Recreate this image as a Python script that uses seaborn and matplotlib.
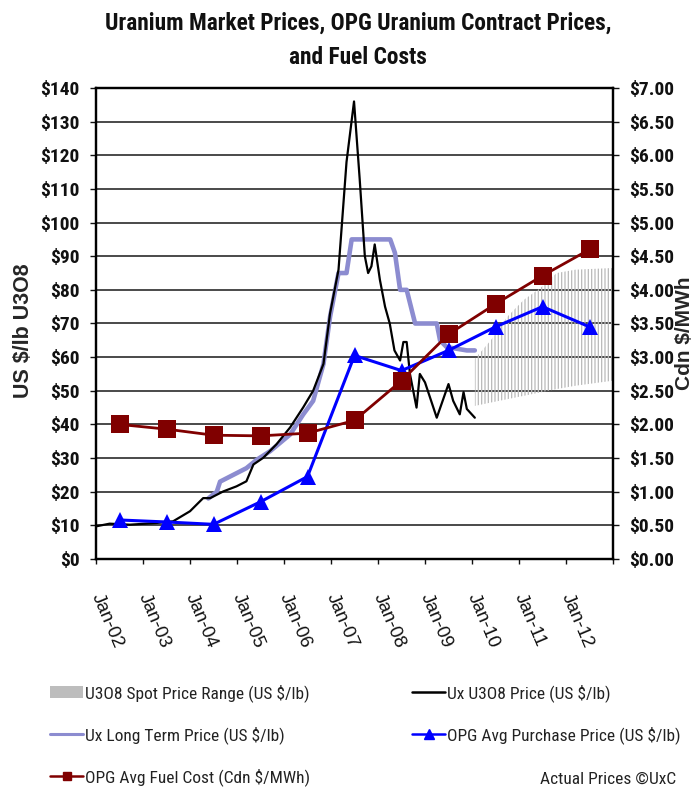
import matplotlib
matplotlib.use("Agg")
import matplotlib.pyplot as plt
import seaborn as sns
import pandas as pd
from matplotlib.lines import Line2D
from matplotlib.patches import Patch
from matplotlib import font_manager as fm

sns.set_style("white")
_names = {f.name for f in fm.fontManager.ttflist}
_narrow = [n for n in ['Liberation Sans Narrow', 'Roboto Condensed', 'Open Sans Condensed',
                       'Noto Sans Condensed', 'DejaVu Sans Condensed'] if n in _names]
NARROW = _narrow + ['Liberation Sans', 'DejaVu Sans']
plt.rcParams['font.family'] = NARROW
plt.rcParams['hatch.color'] = '#b9b9b9'
plt.rcParams['hatch.linewidth'] = 0.9

# ---------------- data ----------------
# annual (mid-year) points
annual_x = [2002.5, 2003.5, 2004.5, 2005.5, 2006.5, 2007.5, 2008.5, 2009.5, 2010.5, 2011.5, 2012.5]
opg_fuel_cost = [2.00, 1.93, 1.84, 1.83, 1.87, 2.06, 2.65, 3.34, 3.79, 4.21, 4.60]        # Cdn $/MWh
opg_purchase = [11.6, 11.0, 10.3, 17.0, 24.5, 60.5, 56.0, 62.0, 69.0, 75.0, 69.0]        # US $/lb

# Ux U3O8 spot price (US $/lb)
spot_x = [2002.0, 2002.29, 2002.72, 2003.28, 2003.64, 2004.0, 2004.28, 2004.43, 2004.71,
          2004.99, 2005.2, 2005.35, 2005.56, 2005.84, 2006.13, 2006.41, 2006.62, 2006.84,
          2006.98, 2007.16, 2007.33, 2007.49, 2007.61, 2007.72, 2007.79, 2007.86, 2007.93,
          2008.04, 2008.15, 2008.25, 2008.35, 2008.47, 2008.54, 2008.61, 2008.68, 2008.82,
          2008.89, 2009.0, 2009.25, 2009.5, 2009.6, 2009.74, 2009.82, 2009.89, 2010.06]
spot_price = [9.7, 10.5, 10.2, 10.7, 11.2, 14.2, 18.1, 18.1, 20.1,
              21.6, 23.1, 28.1, 30.1, 34.1, 39.1, 45.1, 50.0, 58.0,
              73.0, 86.0, 118.0, 136.0, 113.0, 90.0, 85.0, 87.0, 93.5,
              83.0, 75.0, 70.0, 62.0, 59.0, 64.5, 64.5, 55.0, 45.0,
              55.0, 52.5, 42.0, 52.0, 47.0, 43.0, 49.6, 44.6, 42.0]

# Ux long term price (US $/lb)
lt_x = [2004.39, 2004.57, 2004.64, 2004.92, 2005.2, 2005.42, 2005.7, 2006.13, 2006.41,
        2006.62, 2006.84, 2006.98, 2007.09, 2007.16, 2007.33, 2007.44, 2008.26, 2008.36,
        2008.47, 2008.61, 2008.79, 2009.25, 2009.32, 2009.46, 2009.89, 2010.06]
lt_price = [18, 20, 23, 25, 27, 29.5, 32, 37, 43,
            47, 58, 72, 80, 85, 85, 95, 95, 91,
            80, 80, 70, 70, 65, 63, 62, 62]

# U3O8 spot price range (US $/lb)
range_x = [2010.06, 2010.4, 2010.75, 2011.1, 2011.45, 2011.8, 2012.2, 2013.0]
range_low = [45.5, 46.5, 47.5, 48.5, 49.5, 50.5, 51.5, 53.0]
range_high = [59.5, 65.0, 72.0, 77.0, 80.5, 85.0, 86.0, 86.5]

x_ticks = [2002, 2003, 2004, 2005, 2006, 2007, 2008, 2009, 2010, 2011, 2012, 2013]
x_tick_labels = ['Jan-02', 'Jan-03', 'Jan-04', 'Jan-05', 'Jan-06', 'Jan-07', 'Jan-08',
                 'Jan-09', 'Jan-10', 'Jan-11', 'Jan-12', '']
left_ticks = [0, 10, 20, 30, 40, 50, 60, 70, 80, 90, 100, 110, 120, 130, 140]
left_tick_labels = ['$0', '$10', '$20', '$30', '$40', '$50', '$60', '$70', '$80', '$90',
                    '$100', '$110', '$120', '$130', '$140']
right_ticks = [0, 0.5, 1, 1.5, 2, 2.5, 3, 3.5, 4, 4.5, 5, 5.5, 6, 6.5, 7]
right_tick_labels = ['$0.00', '$0.50', '$1.00', '$1.50', '$2.00', '$2.50', '$3.00', '$3.50',
                     '$4.00', '$4.50', '$5.00', '$5.50', '$6.00', '$6.50', '$7.00']

df_annual = pd.DataFrame({'x': annual_x, 'fuel': opg_fuel_cost, 'purchase': opg_purchase})
df_spot = pd.DataFrame({'x': spot_x, 'price': spot_price})
df_lt = pd.DataFrame({'x': lt_x, 'price': lt_price})

# font sizes depend on whether a condensed family exists
HAS_NARROW = len(_narrow) > 0
FS_TITLE = 16.8 if HAS_NARROW else 13.5
FS_TICK = 14 if HAS_NARROW else 12
FS_LEG = 12.5 if HAS_NARROW else 10.6

# ---------------- figure ----------------
W, H = 695, 794
fig = plt.figure(figsize=(W / 100, H / 100), dpi=100)
L, R, T, B = 96, 613, 88, 559
ax = fig.add_axes([L / W, 1 - B / H, (R - L) / W, (B - T) / H])

C_RED = '#800000'
C_BLUE = '#0000ff'
C_LT = '#8c8cd0'

ax.fill_between(range_x, range_low, range_high, facecolor='none', edgecolor='#b9b9b9',
                hatch='|||||', linewidth=0, zorder=1)
sns.lineplot(data=df_lt, x='x', y='price', ax=ax, color=C_LT, linewidth=3.3,
             sort=False, estimator=None, zorder=3)
sns.lineplot(data=df_spot, x='x', y='price', ax=ax, color='black', linewidth=1.6,
             sort=False, estimator=None, zorder=4)
sns.lineplot(data=df_annual, x='x', y='purchase', ax=ax, color=C_BLUE, linewidth=2.2,
             marker='^', markersize=12, markeredgewidth=0, sort=False, estimator=None, zorder=5)

ax.set_xlim(2002, 2013)
ax.set_ylim(0, 140)
ax.set_xticks(x_ticks)
ax.set_xticklabels(x_tick_labels, family=['Liberation Sans', 'DejaVu Sans'], fontsize=13.5)
ax.set_yticks(left_ticks)
ax.set_yticklabels(left_tick_labels, fontweight='bold', fontsize=FS_TICK)
ax.set_xlabel('')
ax.set_ylabel('')
ax.yaxis.grid(True, color='#3c3c3c', linewidth=1.3)
ax.xaxis.grid(False)
ax.set_axisbelow(True)
ax.tick_params(axis='y', which='both', left=True, direction='out', length=4.5, width=1,
               pad=7.5, colors='#111111')
ax.tick_params(axis='x', which='both', bottom=True, direction='out', length=3.5, width=1,
               pad=22, colors='#111111')
for lab in ax.get_xticklabels():
    lab.set_rotation(-67)
    lab.set_ha('left')
    lab.set_va('center')
    lab.set_rotation_mode('anchor')
for sp in ax.spines.values():
    sp.set_color('black')
    sp.set_linewidth(1.6)

ax2 = ax.twinx()
sns.lineplot(data=df_annual, x='x', y='fuel', ax=ax2, color=C_RED, linewidth=2.0,
             marker='s', markersize=13, markeredgewidth=0, sort=False, estimator=None, zorder=6)
ax2.set_ylim(0, 7)
ax2.set_yticks(right_ticks)
ax2.set_yticklabels(right_tick_labels, fontweight='bold', fontsize=FS_TICK)
ax2.set_ylabel('')
ax2.tick_params(axis='y', right=True, direction='out', length=4.5, width=1, pad=7,
                colors='#111111')
for sp in ax2.spines.values():
    sp.set_color('black')
    sp.set_linewidth(1.6)

# titles and axis labels
fig.text(358 / W, 1 - 30 / H, 'Uranium Market Prices, OPG Uranium Contract Prices,',
         ha='center', va='baseline', fontsize=FS_TITLE, fontweight='bold', color='#111111')
fig.text(358 / W, 1 - 64 / H, 'and Fuel Costs',
         ha='center', va='baseline', fontsize=FS_TITLE, fontweight='bold', color='#111111')
fig.text(24 / W, 1 - 331 / H, 'US $/lb U3O8', rotation=90, ha='center', va='center',
         fontsize=15.5, fontweight='bold', family=['Liberation Sans', 'DejaVu Sans'])
fig.text(684 / W, 1 - 333 / H, 'Cdn $/MWh', rotation=90, ha='center', va='center',
         fontsize=15, fontweight='bold', family=['Liberation Sans', 'DejaVu Sans'])

# legend
h_range = Patch(facecolor='#bdbdbd', edgecolor='none', label='U3O8 Spot Price Range (US $/lb)')
h_lt = Line2D([], [], color=C_LT, linewidth=2.2, label='Ux Long Term Price (US $/lb)')
h_fuel = Line2D([], [], color=C_RED, linewidth=1.8, marker='s', markersize=6,
                label='OPG Avg Fuel Cost (Cdn $/MWh)')
h_spot = Line2D([], [], color='black', linewidth=1.8, label='Ux U3O8 Price (US $/lb)')
h_purch = Line2D([], [], color=C_BLUE, linewidth=1.8, marker='^', markersize=7,
                 label='OPG Avg Purchase Price (US $/lb)')
handles = [h_range, h_lt, h_fuel, h_spot, h_purch]
fs_px = FS_LEG * 100 / 72


def make_legend(colsp):
    lg = fig.legend(handles=handles, ncol=2,
                    loc='upper left', bbox_to_anchor=(50 / W, 1 - 684 / H),
                    frameon=False, fontsize=FS_LEG, handlelength=33 / fs_px,
                    handletextpad=0.1, columnspacing=colsp, labelspacing=1.33 * 13 / FS_LEG,
                    borderpad=0, borderaxespad=0)
    for t in lg.get_texts():
        t.set_color('#222222')
    return lg


leg = make_legend(1.0)
fig.canvas.draw()
r = fig.canvas.get_renderer()
x_now = leg.get_texts()[3].get_window_extent(r).x0
shift = 447 - x_now
leg.remove()
leg = make_legend(1.0 + shift / fs_px)

fig.text(676 / W, 1 - 779 / H, 'Actual Prices \u00a9UxC', ha='right', va='center',
         fontsize=FS_LEG, color='#222222')

fig.savefig('out.png', dpi=100)
